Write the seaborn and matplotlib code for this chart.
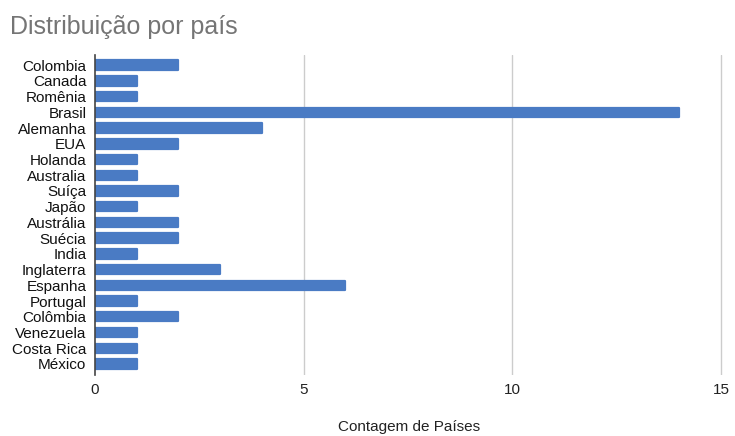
import matplotlib
matplotlib.use("Agg")
import matplotlib.pyplot as plt
import seaborn as sns
import pandas as pd

paises = ["Colombia", "Canada", "Romênia", "Brasil", "Alemanha", "EUA", "Holanda",
          "Australia", "Suíça", "Japão", "Austrália", "Suécia", "India", "Inglaterra",
          "Espanha", "Portugal", "Colômbia", "Venezuela", "Costa Rica", "México"]
contagem = [2, 1, 1, 14, 4, 2, 1, 1, 2, 1, 2, 2, 1, 3, 6, 1, 2, 1, 1, 1]
x_ticks = [0, 5, 10, 15]

df = pd.DataFrame({"País": paises, "Contagem": contagem})

sns.set_theme(style="white")
plt.rcParams["font.family"] = ["Liberation Sans", "DejaVu Sans"]

fig = plt.figure(figsize=(7.35, 4.36), dpi=100)
ax = fig.add_axes([0.129, 0.14, 0.855, 0.734])

sns.barplot(data=df, x="Contagem", y="País", orient="h", color="#4a7bc4",
            saturation=1, width=0.6, ax=ax)

# slightly rounded bar ends
for p in ax.patches:
    p.set_edgecolor("#4a7bc4")
    p.set_linewidth(1.6)
    p.set_joinstyle("round")

ax.set_xlim(0, 15.05)
ax.set_ylim(19.7, -0.65)
ax.set_xticks(x_ticks)
ax.set_xticklabels([str(t) for t in x_ticks], fontsize=11, color="#222222")
ax.tick_params(axis="y", labelsize=11, labelcolor="#111111", length=0, pad=6)
ax.tick_params(axis="x", length=0, pad=6)

for t in x_ticks[1:]:
    ax.axvline(t, color="#cccccc", linewidth=1.0, zorder=0)

for s in ["top", "right", "bottom"]:
    ax.spines[s].set_visible(False)
ax.spines["left"].set_color("#444444")
ax.spines["left"].set_linewidth(1.2)

ax.set_ylabel("")
ax.set_xlabel("Contagem de Países", fontsize=11, color="#222222", labelpad=16)

fig.text(0.013, 0.938, "Distribuição por país", fontsize=18, color="#757575",
         ha="left", va="center")

fig.savefig("out.png", dpi=100, facecolor="white")
